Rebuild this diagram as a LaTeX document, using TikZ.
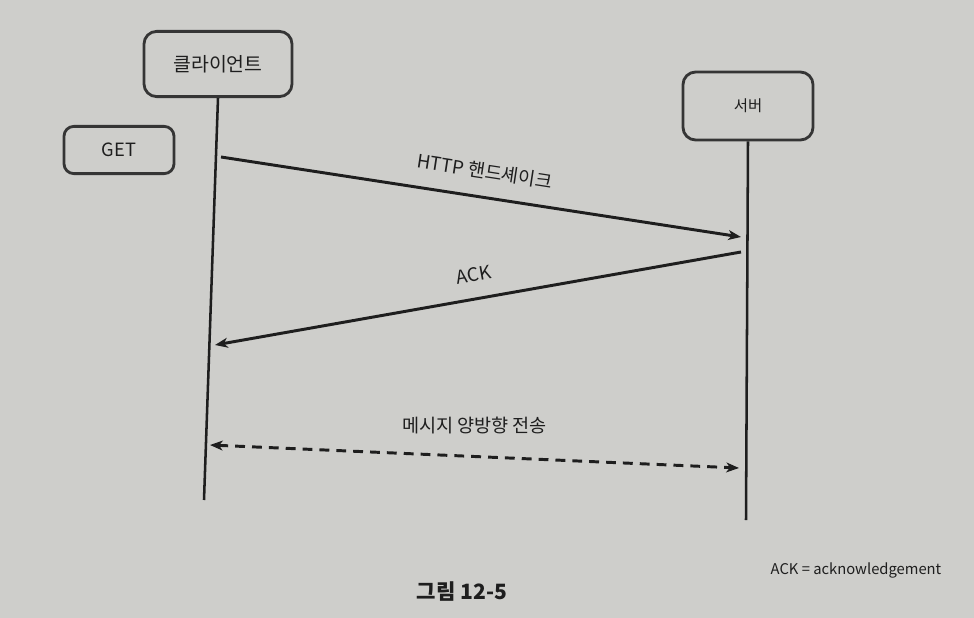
\documentclass[tikz,border=0pt]{standalone}
\usepackage{fontspec}
\setmainfont{Noto Sans CJK KR}
\usetikzlibrary{positioning, arrows.meta}
\definecolor{paper}{RGB}{206,206,203}
\definecolor{ink}{RGB}{30,30,30}

\begin{document}
\begin{tikzpicture}[x=0.025cm, y=-0.025cm, >={Stealth[length=9pt, width=7pt, inset=2.5pt]},
    box/.style={draw=ink!90, line width=2pt, rounded corners=9pt, text=ink},
    life/.style={draw=ink, line width=1.8pt},
    msg/.style={draw=ink, line width=2.1pt},
    lbl/.style={text=ink, font=\fontsize{13.2}{15}\selectfont}]

    % Page background
    \fill[paper] (0,0) rectangle (974,618);
    \useasboundingbox (0,0) rectangle (974,618);

    % Client, server and GET boxes
    \node[box, minimum width=3.7cm, minimum height=1.63cm, font=\fontsize{13.8}{16}\selectfont] (client) at (218,64) {클라이언트};
    \node[box, minimum width=3.25cm, minimum height=1.7cm, font=\fontsize{11}{13}\selectfont] (server) at (748,106) {서버};
    \node[box, minimum width=2.75cm, minimum height=1.18cm, rounded corners=7pt, font=\fontsize{13}{15}\selectfont] (get) at (119,150) {GET};

    % Lifelines
    \coordinate (clientEnd) at (204,500);
    \coordinate (serverEnd) at (746,520);
    \draw[life] (client.south) -- (clientEnd);
    \draw[life] (server.south) -- (serverEnd);

    % Handshake to the server
    \coordinate (hsStart) at (221,157);
    \coordinate (hsEnd) at (741,237);
    \draw[->, msg] (hsStart) -- node[lbl, sloped, above=8pt] (hsLabel) {HTTP 핸드셰이크} (hsEnd);

    % ACK back to the client
    \coordinate (ackStart) at (741,252);
    \coordinate (ackEnd) at (215,345);
    \draw[<-, msg] (ackEnd) -- node[lbl, sloped, above=8pt] (ackLabel) {ACK} (ackStart);

    % Messages both ways
    \coordinate (biLeft) at (210,445);
    \coordinate (biRight) at (739,468);
    \draw[<->, msg, dash pattern=on 7pt off 5pt] (biLeft) -- node[lbl, above=12pt] (biLabel) {메시지 양방향 전송} (biRight);

    % Note and caption
    \node[text=ink, font=\fontsize{10.5}{12}\selectfont] (ackNote) at (856,570) {ACK = acknowledgement};
    \node[text=ink, font=\bfseries\fontsize{15}{18}\selectfont] (caption) at (462,591) {그림 12-5};

\end{tikzpicture}
\end{document}
